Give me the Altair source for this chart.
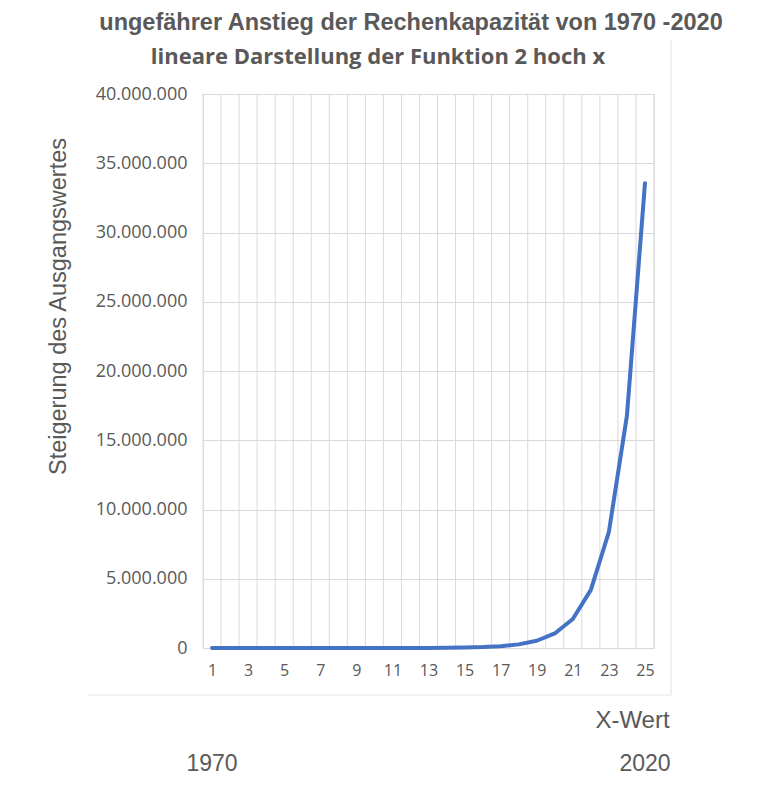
import altair as alt
import pandas as pd

# Data
x_values = list(range(1, 26))
y_values = [2, 4, 8, 16, 32, 64, 128, 256, 512, 1024, 2048, 4096, 8192, 16384,
            32768, 65536, 131072, 262144, 524288, 1048576, 2097152, 4194304,
            8388608, 16777216, 33554432]
x_tick_labels = [1, 3, 5, 7, 9, 11, 13, 15, 17, 19, 21, 23, 25]
y_tick_values = [0, 5000000, 10000000, 15000000, 20000000, 25000000, 30000000, 35000000, 40000000]
category_bounds = [i + 0.5 for i in range(0, 26)]
year_labels = ["1970", "2020"]
year_positions = [1, 25]

TITLE = "ungefährer Anstieg der Rechenkapazität von 1970 -2020"
SUBTITLE = "lineare Darstellung der Funktion 2 hoch x"
Y_TITLE = "Steigerung des Ausgangswertes"
X_TITLE = "X-Wert"

GRAY = "#595959"
GRID = "#d9d9d9"
W, H = 451, 554
OX, OY = 203, 94  # plot origin on the page

df = pd.DataFrame({"x": x_values, "y": y_values})
xscale = alt.Scale(domain=[0.5, 25.5], nice=False, zero=False)
yscale = alt.Scale(domain=[0, 40000000], nice=False)

x_axis = alt.Axis(
    values=x_tick_labels, grid=False, ticks=False, domain=False,
    labelFont="Open Sans", labelFontSize=16, labelColor=GRAY, labelPadding=14,
    title=X_TITLE, titleFont="Liberation Sans", titleFontSize=24,
    titleFontWeight="normal", titleColor=GRAY, titleX=632 - OX, titleY=720 - (OY + H),
    titleAlign="center", titleBaseline="middle", labelFlush=False)

y_axis = alt.Axis(
    values=y_tick_values, grid=True, gridColor=GRID, ticks=False, domain=False,
    labelExpr="replace(format(datum.value, ','), /,/g, '.')",
    labelFont="Open Sans", labelFontSize=18, labelColor=GRAY, labelPadding=16,
    title=Y_TITLE, titleFont="Liberation Sans", titleFontSize=23.5,
    titleFontWeight="normal", titleColor=GRAY, titleAngle=270,
    titleX=58 - OX, titleY=306 - OY, titleAlign="center", titleBaseline="middle")

grid_v = alt.Chart(pd.DataFrame({"b": category_bounds})).mark_rule(
    color=GRID, strokeWidth=1
).encode(x=alt.X("b:Q", scale=xscale, axis=x_axis))

line = alt.Chart(df).mark_line(
    color="#4472C4", strokeWidth=4, strokeCap="round", strokeJoin="round"
).encode(
    x=alt.X("x:Q", scale=xscale, axis=x_axis),
    y=alt.Y("y:Q", scale=yscale, axis=y_axis),
)

def text_layer(txt, x, y, font, size, weight="normal"):
    return alt.Chart(pd.DataFrame({"t": [txt]})).mark_text(
        font=font, fontSize=size, fontWeight=weight, color=GRAY,
        align="center", baseline="middle"
    ).encode(text="t:N", x=alt.value(x), y=alt.value(y))

title = text_layer(TITLE, 411 - OX, 23 - OY, "Liberation Sans", 23.5, "bold")
subtitle = text_layer(SUBTITLE, 378 - OX, 57 - OY, "Open Sans", 22, "bold")

years = alt.Chart(pd.DataFrame({"label": year_labels, "pos": year_positions})).mark_text(
    font="Liberation Sans", fontSize=23, color=GRAY, align="center", baseline="middle"
).encode(text="label:N", x=alt.X("pos:Q", scale=xscale, axis=x_axis), y=alt.value(764 - OY))

frame_right = alt.Chart(pd.DataFrame({"a": [0]})).mark_rule(color="#e3e3e3", strokeWidth=1).encode(
    x=alt.value(671 - OX), y=alt.value(40 - OY), y2=alt.value(695 - OY))
frame_bottom = alt.Chart(pd.DataFrame({"a": [0]})).mark_rule(color="#e3e3e3", strokeWidth=1).encode(
    x=alt.value(88 - OX), x2=alt.value(671 - OX), y=alt.value(695 - OY))

chart = alt.layer(grid_v, line, years, title, subtitle, frame_right, frame_bottom).properties(
    width=W, height=H,
    autosize=alt.AutoSizeParams(type="none"),
    padding={"left": OX - 8, "top": OY - 8, "right": 752 - (OX - 8) - W - 2, "bottom": 782 - (OY - 8) - H},
).configure_view(stroke=GRID, strokeWidth=1).configure(background="white")

chart.save("out.html", embed_options={"renderer": "svg", "actions": False})
